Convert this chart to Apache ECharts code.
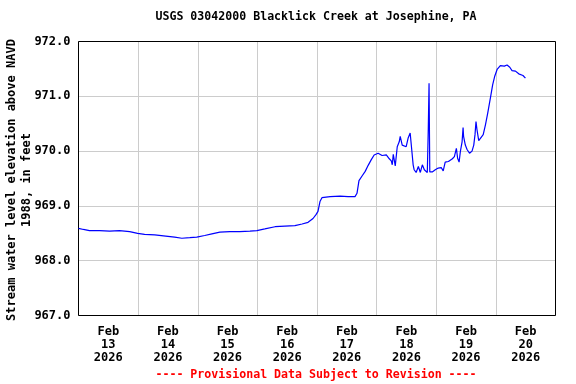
<!DOCTYPE html>
<html>
<head>
<meta charset="utf-8">
<script src="https://cdn.jsdelivr.net/npm/echarts@6/dist/echarts.min.js"></script>
<style>html,body{margin:0;padding:0;background:#fff}#c{width:576px;height:384px}</style>
</head>
<body>
<div id="c"></div>
<script>
// Hours since Feb 13 2026 00:00
var hours = [0,2,4.4,8.5,12.5,16.5,20.6,23.8,26.6,30.7,35.1,38.7,41.6,44.8,47.6,50.8,53.7,56.9,60.9,64.9,69,71.8,75,79.1,83.1,87.1,90,92.4,94.4,95.6,96.4,97.2,98,101.3,105.3,108.5,111.3,112.1,112.9,114.2,115.4,116.6,117.8,119,120.6,122.2,123.9,125.1,125.9,126.3,126.7,127.5,128.3,129.1,129.5,130.3,131.1,131.9,132.7,133.5,134.3,134.7,135.1,135.9,136.8,137.6,138.4,139.2,140,140.4,140.8,141.1,141.4,142.4,143.6,144.8,146,146.8,147.6,148.9,150.5,151.3,152.1,152.6,153.2,153.7,154.4,154.8,155,155.7,156.4,157.4,158.4,159.1,159.6,160,160.4,161.1,161.8,162.9,163.8,164.7,165.8,166.7,167.5,168.5,169.8,170.5,171.4,172.5,173.6,174.5,175.9,177.2,178.9,179.9];
// Stream water level elevation (ft)
var elevation = [968.59,968.57,968.55,968.55,968.54,968.55,968.53,968.50,968.48,968.47,968.45,968.43,968.41,968.42,968.43,968.46,968.49,968.52,968.53,968.53,968.54,968.55,968.58,968.62,968.63,968.64,968.67,968.70,968.77,968.84,968.90,969.08,969.15,969.17,969.18,969.17,969.17,969.23,969.46,969.55,969.63,969.74,969.84,969.93,969.96,969.92,969.93,969.86,969.82,969.75,969.94,969.73,970.08,970.17,970.27,970.11,970.14,970.08,970.24,970.33,970.31,969.75,969.66,969.61,969.72,969.61,969.75,969.66,969.67,969.61,970.42,971.24,969.62,969.62,969.66,969.69,969.70,969.64,969.80,969.81,969.86,969.90,970.05,969.87,969.80,969.99,970.17,970.43,970.27,970.11,970.03,969.96,970.00,970.11,970.30,970.54,970.39,970.19,970.21,970.30,970.48,970.69,970.97,971.21,971.36,971.49,971.56,971.59,971.55,971.57,971.53,971.47,971.46,971.41,971.38,971.33];
var dayLabels = ['Feb\n13\n2026','Feb\n14\n2026','Feb\n15\n2026','Feb\n16\n2026','Feb\n17\n2026','Feb\n18\n2026','Feb\n19\n2026','Feb\n20\n2026'];
var yTicks = [967, 972, 1];

var FONT = '"DejaVu Sans Mono", monospace';
var chart = echarts.init(document.getElementById('c'), null, {renderer: 'canvas'});
var points = hours.map(function (h, i) { return [h, elevation[i]]; });
var gridRect = {left: 78.5, right: 20.5, top: 41.5, bottom: 68.5};

chart.setOption({
  animation: false,
  backgroundColor: '#fff',
  title: {
    text: 'USGS 03042000 Blacklick Creek at Josephine, PA',
    left: 316, top: 11, padding: 0, textAlign: 'center',
    textStyle: {fontFamily: FONT, fontWeight: 'bold', fontSize: 11.6, color: '#000'}
  },
  grid: [
    Object.assign({show: true, borderColor: '#000', borderWidth: 1, backgroundColor: 'transparent', z: 3}, gridRect),
    Object.assign({show: false}, gridRect)
  ],
  xAxis: [
    {
      type: 'value', gridIndex: 0, min: 0, max: 192, interval: 24,
      axisLine: {show: false}, axisTick: {show: false}, axisLabel: {show: false},
      splitLine: {show: true, lineStyle: {color: '#cccccc', width: 1}}
    },
    {
      type: 'value', gridIndex: 1, min: 0, max: 192, interval: 12, position: 'bottom',
      axisLine: {show: false}, axisTick: {show: false}, splitLine: {show: false},
      axisLabel: {
        show: true, margin: 10, color: '#000', fontFamily: FONT, fontWeight: 'bold', fontSize: 12, lineHeight: 13,
        verticalAlign: 'top',
        formatter: function (v) {
          if (v % 24 === 12) { return dayLabels[(v - 12) / 24] || ''; }
          return '';
        }
      }
    }
  ],
  yAxis: [
    {
      type: 'value', gridIndex: 0, min: yTicks[0], max: yTicks[1], interval: yTicks[2],
      axisLine: {show: false}, axisTick: {show: false},
      splitLine: {show: true, lineStyle: {color: '#cccccc', width: 1}},
      axisLabel: {
        margin: 8, color: '#000', fontFamily: FONT, fontWeight: 'bold', fontSize: 12,
        formatter: function (v) { return v.toFixed(1); }
      }
    },
    {
      type: 'value', gridIndex: 1, min: yTicks[0], max: yTicks[1], show: false
    }
  ],
  series: [{
    type: 'line', xAxisIndex: 0, yAxisIndex: 0,
    data: points, showSymbol: false, symbol: 'none',
    lineStyle: {color: '#0000ff', width: 1.2}, z: 5
  }],
  graphic: [
    {
      type: 'text', x: 19, y: 180, rotation: Math.PI / 2,
      style: {
        text: 'Stream water level elevation above NAVD\n1988, in feet',
        fontFamily: FONT, fontWeight: 'bold', fontSize: 12, lineHeight: 15,
        fill: '#000', align: 'center', verticalAlign: 'middle'
      }
    },
    {
      type: 'text', x: 316, y: 375,
      style: {
        text: '---- Provisional Data Subject to Revision ----',
        fontFamily: FONT, fontWeight: 'bold', fontSize: 11.6,
        fill: '#ff0000', align: 'center', verticalAlign: 'middle'
      }
    }
  ]
});
</script>
</body>
</html>
